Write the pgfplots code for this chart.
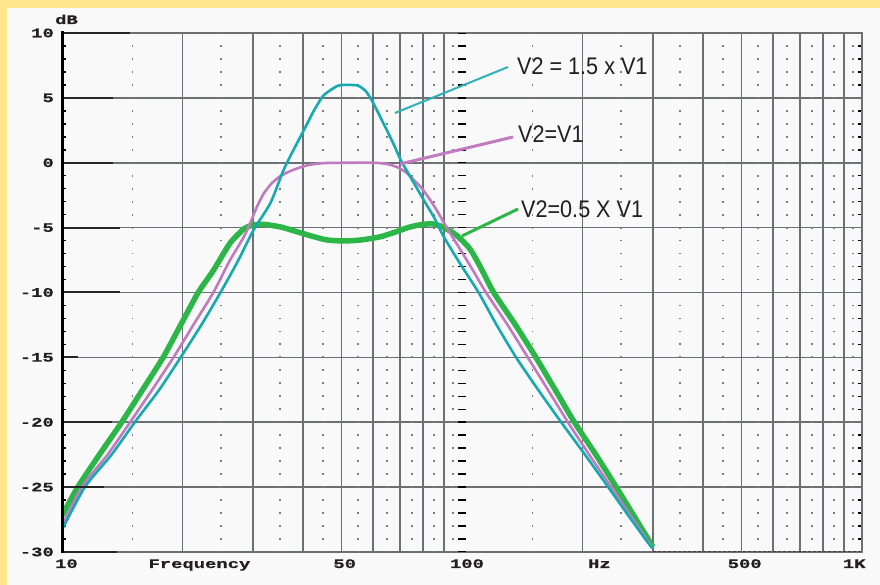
\documentclass[border=0pt]{standalone}
\usepackage{pgfplots}
\pgfplotsset{compat=1.18}
\usepackage{fontspec}
\setmainfont{Liberation Sans}
\newfontfamily\tickfont{Liberation Mono}[FakeStretch=1.45,FakeBold=0.8]
\newfontfamily\annfont{Liberation Sans}[FakeStretch=0.9]
\definecolor{bgyellow}{RGB}{255,229,140}
\definecolor{panel}{RGB}{248,249,248}
\definecolor{gridc}{RGB}{108,112,116}
\definecolor{dotc}{RGB}{125,125,125}
\definecolor{cyanc}{RGB}{22,170,176}
\definecolor{purplec}{RGB}{192,122,192}
\definecolor{greenc}{RGB}{44,182,72}
\definecolor{txt}{RGB}{35,31,32}

\begin{document}
\begin{tikzpicture}[x=1bp,y=1bp]
\fill[bgyellow] (0,0) rectangle (880,585);
\fill[panel] (7,0) rectangle (880,577);
\begin{axis}[
  at={(62bp,33bp)}, anchor=south west,
  scale only axis, width=800bp, height=519bp,
  xmode=log, xmin=10, xmax=1000, ymin=-30, ymax=10,
  xtick={20,30,40,50,60,70,80,90,200,300,400,500,600,700,800,900},
  xticklabels={},
  xminorticks=false,
  extra x ticks={10.26,22.06,50.9,102.9,220.6,509,956},
  extra x tick labels={10,Frequency,50,100,Hz,500,1K},
  extra x tick style={grid=none},
  ytick={-30,-25,...,10},
  yticklabels={-30,-25,-20,-15,-10,-5,0,5,10},
  minor y tick num=4,
  major tick length=0pt,
  minor tick length=4.5bp,
  tick align=inside,
  tick style={black, line width=1.5bp},
  grid=major,
  major grid style={draw=gridc, line width=1.7bp},
  axis line style={draw=gridc, line width=2.6bp},
  ticklabel style={font=\tickfont\bfseries\fontsize{13bp}{15bp}\selectfont, inner sep=0pt, text=txt},
  xticklabel style={anchor=base, yshift=-16bp},
  yticklabel style={anchor=east, xshift=-8bp},
]
\pgfplotsinvokeforeach{15,25,35,45,55,65,75,85,95,150,250,350,450,550,650,750,850,950}{
  \draw[dotc, line width=1.8bp, dash pattern=on 1.8bp off 11.175bp, dash phase=0.9bp] (axis cs:#1,-30) -- (axis cs:#1,10);
}
\draw[black, line width=8bp, dash pattern=on 1.5bp off 11.475bp, dash phase=0.75bp] (axis cs:100,-30) -- (axis cs:100,10);
\draw[black!75, line width=2bp, dash pattern=on 3bp off 2bp] (axis cs:300,-30) -- (axis cs:1000,-30);

\addplot[greenc, line width=5.5bp, smooth, tension=0.4] coordinates {
(10,-27.2) (10.95,-25) (12.4,-22.5) (14.1,-20) (15.9,-17.5) (17.9,-15) (19.8,-12.5)
(21.9,-10) (23.9,-8.3) (26.3,-6.2) (28.5,-5.1) (30,-4.8) (32,-4.75) (35.2,-4.95)
(38.5,-5.3) (42.6,-5.7) (46,-5.95) (50.6,-6.03) (56,-5.95) (62.6,-5.7) (68,-5.35)
(73.2,-5.0) (78,-4.8) (83.6,-4.7) (88,-4.85) (92,-5.15) (96,-5.5) (99.4,-5.9)
(105,-6.7) (111,-8.0) (120,-10) (136,-12.5) (153,-15) (171,-17.5) (191,-20)
(216,-22.5) (243,-25) (270,-27.3) (300,-29.6)
};
\addplot[purplec, line width=2.6bp, smooth, tension=0.4] coordinates {
(10,-28.0) (11.2,-25) (13,-22.5) (14.8,-20) (16.8,-17.5) (19.0,-15) (21.3,-12.5)
(23.9,-10) (26.2,-7.6) (28.5,-5.7) (29.6,-4.6) (30.7,-3.4) (31.9,-2.4) (33.4,-1.6)
(35.1,-1.05) (37.5,-0.6) (41,-0.2) (45,-0.03) (52,0) (60.2,0) (65,-0.1) (69,-0.35)
(72.5,-0.75) (75.8,-1.33) (79.5,-2.0) (83.4,-2.9) (87,-3.8) (90,-4.6) (95,-5.8)
(100,-6.9) (107,-8.4) (114.8,-10) (130,-12.5) (146,-15) (164,-17.5) (184,-20)
(208,-22.5) (236,-25) (265,-27.3) (300,-29.7)
};
\addplot[cyanc, line width=2.6bp, smooth, tension=0.4] coordinates {
(10,-28.3) (11.4,-25) (13.3,-22.5) (15.2,-20) (17.5,-17.5) (19.8,-15) (22.3,-12.5)
(24.9,-10) (27.5,-7.6) (30.1,-5.2) (33.2,-3.1) (35.8,-0.56) (37.9,0.98) (41.1,3.06)
(42.6,4.0) (45.1,5.2) (48.8,5.92) (51,6.0) (54.9,5.95) (57.5,5.5) (59.5,4.8)
(61.5,3.95) (63.7,3.0) (67.3,1.5) (70.3,0.2) (74,-1.0) (77.6,-2.1) (81,-3.1)
(85.1,-4.2) (90,-5.7) (99,-7.8) (110,-10) (122,-12.5) (136.5,-15) (155,-17.5)
(177,-20) (203,-22.5) (232,-25) (262,-27.3) (292,-29.3) (300,-29.7)
};
\end{axis}
% darker segments at left of the major rows
\foreach \y/\xe in {552/130, 487.125/113, 422.25/113, 357.375/120, 292.5/120, 227.625/78, 162.75/112, 97.875/104, 33/117}
  \draw[black!85, line width=2bp] (62,\y) -- (\xe,\y);
\draw[black, line width=3bp] (62,31.5) -- (62,553.5);
% dB label
\node[anchor=base west, inner sep=0pt, text=txt, font=\tickfont\bfseries\fontsize{13bp}{15bp}\selectfont] at (55,561) {dB};
% annotations
\draw[cyanc!90!white, line width=2bp] (395,472) -- (508,518);
\draw[purplec, line width=3bp] (400,421) -- (513,448);
\draw[greenc, line width=3bp] (462,349) -- (518,376);
\node[anchor=base west, inner sep=0pt, text=txt, font=\annfont\fontsize{24bp}{28bp}\selectfont] at (517,510) {V2 = 1.5 x V1};
\node[anchor=base west, inner sep=0pt, text=txt, font=\annfont\fontsize{24bp}{28bp}\selectfont] at (518,442) {V2=V1};
\node[anchor=base west, inner sep=0pt, text=txt, font=\annfont\fontsize{24bp}{28bp}\selectfont] at (521,367) {V2=0.5 X V1};
\pgfresetboundingbox
\useasboundingbox (0,0) rectangle (880,585);
\end{tikzpicture}
\end{document}
